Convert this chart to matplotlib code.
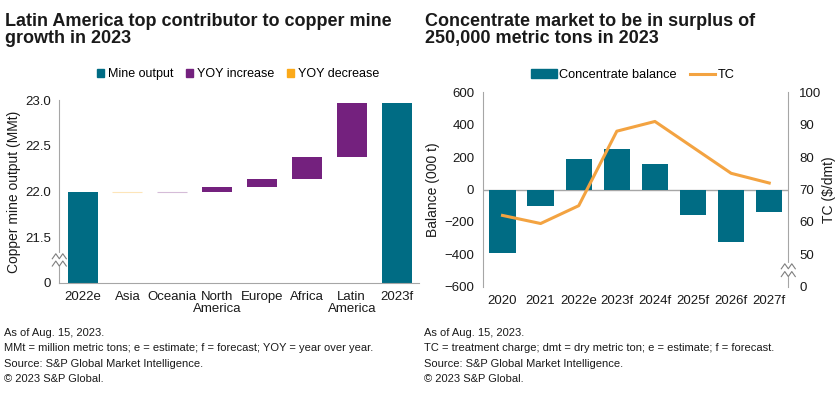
import matplotlib
matplotlib.use("Agg")
import matplotlib.pyplot as plt
from matplotlib.patches import Patch
from matplotlib.lines import Line2D

plt.rcParams['font.family'] = ['Liberation Sans', 'DejaVu Sans']

# left chart: copper mine output waterfall (MMt)
regions = ["2022e", "Asia", "Oceania", "North\nAmerica", "Europe", "Africa", "Latin\nAmerica", "2023f"]
start_output = 22.0
yoy_changes = [-0.005, 0.005, 0.05, 0.09, 0.24, 0.59]

# right chart: concentrate balance (000 t) and TC ($/dmt)
years = ["2020", "2021", "2022e", "2023f", "2024f", "2025f", "2026f", "2027f"]
balance = [-390, -100, 190, 250, 155, -160, -325, -140]
tc = [62, 59.5, 65, 88, 91, 83, 75, 72]

TEAL = "#006C84"
PURPLE = "#74217E"
ORANGE = "#FBA919"
LINE_ORANGE = "#F3A341"
GREY = "#A6A6A6"
TXT = "#1a1a1a"

W, H = 840, 396
fig = plt.figure(figsize=(W / 100, H / 100), dpi=100)


def px_axes(x0, y0, x1, y1):
    return fig.add_axes([x0 / W, 1 - y1 / H, (x1 - x0) / W, (y1 - y0) / H])


def break_mark(ax, xfrac, yfrac):
    # zigzag break on a spine, drawn in axes coords
    t = ax.transAxes
    gap = 0.025
    ax.plot([xfrac, xfrac], [yfrac - gap, yfrac + gap], transform=t, color="white",
            lw=3, clip_on=False, zorder=5)
    bbox = ax.get_window_extent()
    dx = 7 / bbox.width
    dy = 2.5 / bbox.height
    for off in (-gap * 0.8, gap * 0.8):
        xs = [xfrac - dx, xfrac - dx / 2, xfrac, xfrac + dx / 2, xfrac + dx]
        ys = [yfrac + off + (dy if i % 2 else -dy) for i in range(5)]
        ax.plot(xs, ys, transform=t, color="#7f7f7f", lw=0.8, clip_on=False, zorder=6)


# ---------------- left chart ----------------
ax1 = px_axes(59.3, 100.3, 419, 282.7)
base = 21.0
ax1.bar(0, start_output - base, bottom=base, width=0.67, color=TEAL)
level = start_output
for i, ch in enumerate(yoy_changes, start=1):
    lo = level if ch >= 0 else level + ch
    col = PURPLE if ch >= 0 else ORANGE
    faint = abs(ch) < 0.02
    ax1.bar(i, abs(ch), bottom=lo, width=0.67, color=col,
            alpha=0.3 if faint else 1.0, edgecolor=col, linewidth=0.8 if faint else 0)
    level += ch
ax1.bar(len(regions) - 1, level - base, bottom=base, width=0.67, color=TEAL)

ax1.set_xlim(-0.52, 7.5)
ax1.set_ylim(21.0, 23.0)
ax1.set_yticks([21.0, 21.5, 22.0, 22.5, 23.0])
ax1.set_yticklabels(["0", "21.5", "22.0", "22.5", "23.0"])
ax1.set_xticks(range(len(regions)))
ax1.set_xticklabels(regions, linespacing=1.05)
for s in ("top", "right"):
    ax1.spines[s].set_visible(False)
for s in ("left", "bottom"):
    ax1.spines[s].set_color(GREY)
ax1.tick_params(length=0, labelsize=9.5, colors=TXT, pad=6)
ax1.set_ylabel("Copper mine output (MMt)", fontsize=10, color=TXT, labelpad=3)
break_mark(ax1, 0.0, 0.125)

handles1 = [Patch(color=TEAL), Patch(color=PURPLE), Patch(color=ORANGE)]
fig.legend(handles1, ["Mine output", "YOY increase", "YOY decrease"], loc="center",
           bbox_to_anchor=(238 / W, 1 - 74 / H), ncol=3, frameon=False, fontsize=9,
           handlelength=0.6, handleheight=0.6, handletextpad=0.3, columnspacing=1.0)

# ---------------- right chart ----------------
ax2 = px_axes(482.7, 92.3, 788.3, 286.7)
x = range(len(years))
ax2.bar(x, balance, width=0.69, color=TEAL, zorder=2)
ax2.axhline(0, color=GREY, lw=1, zorder=1)
ax2.set_xlim(-0.52, 7.5)
ax2.set_ylim(-600, 600)
ax2.set_yticks(range(-600, 601, 200))
ax2.set_xticks(list(x))
ax2.set_xticklabels(years)
for s in ("top", "right", "bottom"):
    ax2.spines[s].set_visible(False)
ax2.spines["left"].set_color(GREY)
ax2.tick_params(length=0, labelsize=9.5, colors=TXT, pad=6)
ax2.set_ylabel("Balance (000 t)", fontsize=10, color=TXT, labelpad=3)

ax3 = ax2.twinx()
ax3.plot(list(x), tc, color=LINE_ORANGE, lw=2.2)
ax3.set_ylim(40, 100)
ax3.set_yticks(range(40, 101, 10))
ax3.set_yticklabels(["0"] + [str(v) for v in range(50, 101, 10)])
for s in ("top", "left", "bottom"):
    ax3.spines[s].set_visible(False)
ax3.spines["right"].set_color(GREY)
ax3.tick_params(length=0, labelsize=9.5, colors=TXT, pad=8)
ax3.set_ylabel("TC ($/dmt)", fontsize=10, color=TXT, labelpad=0)
break_mark(ax3, 1.0, 0.085)

handles2 = [Patch(color=TEAL), Line2D([], [], color=LINE_ORANGE, lw=2.2)]
fig.legend(handles2, ["Concentrate balance", "TC"], loc="center",
           bbox_to_anchor=(633 / W, 1 - 75 / H), ncol=2, frameon=False, fontsize=9.2,
           handlelength=2.0, handleheight=0.6, handletextpad=0.2, columnspacing=1.0)

# ---------------- titles & notes ----------------
fig.text(5 / W, 1 - 13 / H, "Latin America top contributor to copper mine\ngrowth in 2023",
         fontsize=13, fontweight="bold", va="top", ha="left", color=TXT, linespacing=1.0)
fig.text(425 / W, 1 - 13 / H, "Concentrate market to be in surplus of\n250,000 metric tons in 2023",
         fontsize=13, fontweight="bold", va="top", ha="left", color=TXT, linespacing=1.0)

notes_left = ["As of Aug. 15, 2023.",
              "MMt = million metric tons; e = estimate; f = forecast; YOY = year over year.",
              "Source: S&P Global Market Intelligence.",
              "\u00a9 2023 S&P Global."]
notes_right = ["As of Aug. 15, 2023.",
               "TC = treatment charge; dmt = dry metric ton; e = estimate; f = forecast.",
               "Source: S&P Global Market Intelligence.",
               "\u00a9 2023 S&P Global."]
for i, (a, b) in enumerate(zip(notes_left, notes_right)):
    y = 1 - (333 + i * 15.3) / H
    fig.text(4 / W, y, a, fontsize=8.0, va="center", ha="left", color=TXT)
    fig.text(424 / W, y, b, fontsize=8.0, va="center", ha="left", color=TXT)

fig.savefig("out.png", dpi=100)
